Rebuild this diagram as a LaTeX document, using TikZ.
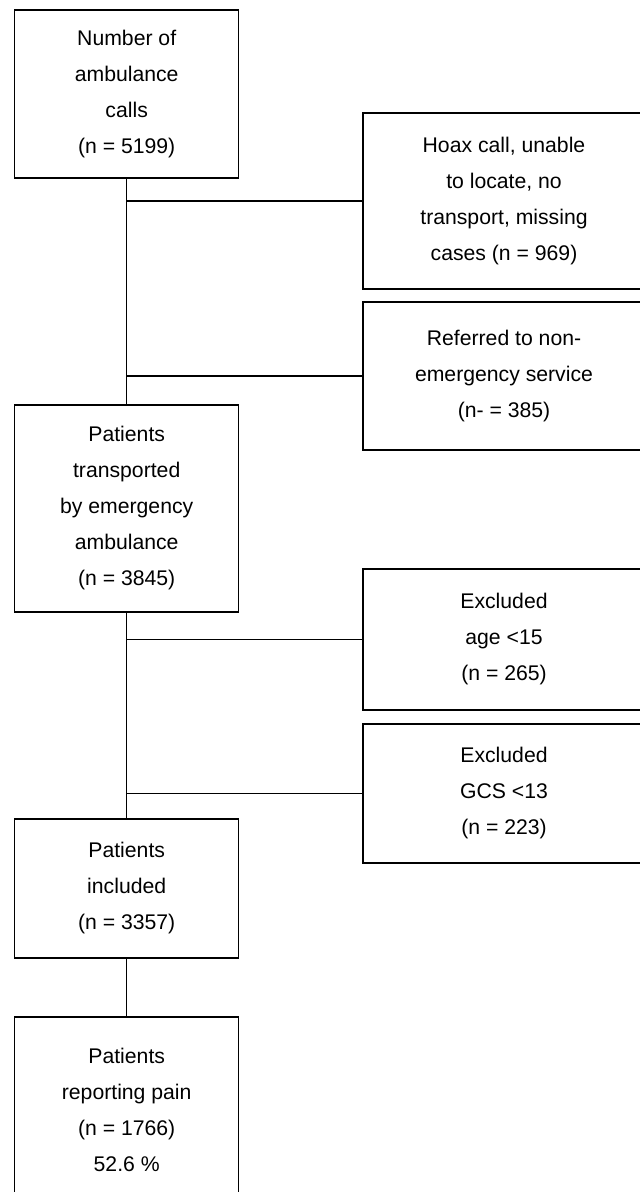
\documentclass[tikz,border=0pt]{standalone}
\usepackage{fontspec}
\setmainfont{Liberation Sans}

\begin{document}
\begin{tikzpicture}[x=0.5pt, y=-0.5pt, line width=0.75pt,
    stage/.style={draw, rectangle, inner sep=0pt, align=center, minimum width=112pt,
        font=\fontsize{10.6}{18}\selectfont},
    dropout/.style={stage, minimum width=141pt}]
    \useasboundingbox (0,0) rectangle (640,1192);

    \node[stage, minimum height=84pt] (calls) at (126.7,94) {Number of\\ambulance\\calls\\(n = 5199)};
    \node[stage, minimum height=103.5pt] (transported) at (126.7,508.5) {Patients\\transported\\by emergency\\ambulance\\(n = 3845)};
    \node[stage, minimum height=69.5pt] (included) at (126.7,888.5) {Patients\\included\\(n = 3357)};
    \node[stage, minimum height=93pt] (pain) at (126.7,1110) {Patients\\reporting pain\\(n = 1766)\\52.6 \%};

    \node[dropout, minimum height=88pt] (hoax) at (504,201) {Hoax call, unable\\to locate, no\\transport, missing\\cases (n = 969)};
    \node[dropout, minimum height=74pt] (referred) at (504,376) {Referred to non-\\emergency service\\(n- = 385)};
    \node[dropout, minimum height=70.5pt] (age) at (504,639.5) {Excluded\\age <15\\(n = 265)};
    \node[dropout, minimum height=69.5pt] (gcs) at (504,793.5) {Excluded\\GCS <13\\(n = 223)};

    \draw (calls.south) -- (transported.north);
    \draw (transported.south) -- (included.north);
    \draw (included.south) -- (pain.north);

    \draw (hoax.west) -- (hoax.west -| calls.south);
    \draw (referred.west) -- (referred.west -| calls.south);
    \draw (age.west) -- (age.west -| transported.south);
    \draw (gcs.west) -- (gcs.west -| transported.south);
\end{tikzpicture}
\end{document}
